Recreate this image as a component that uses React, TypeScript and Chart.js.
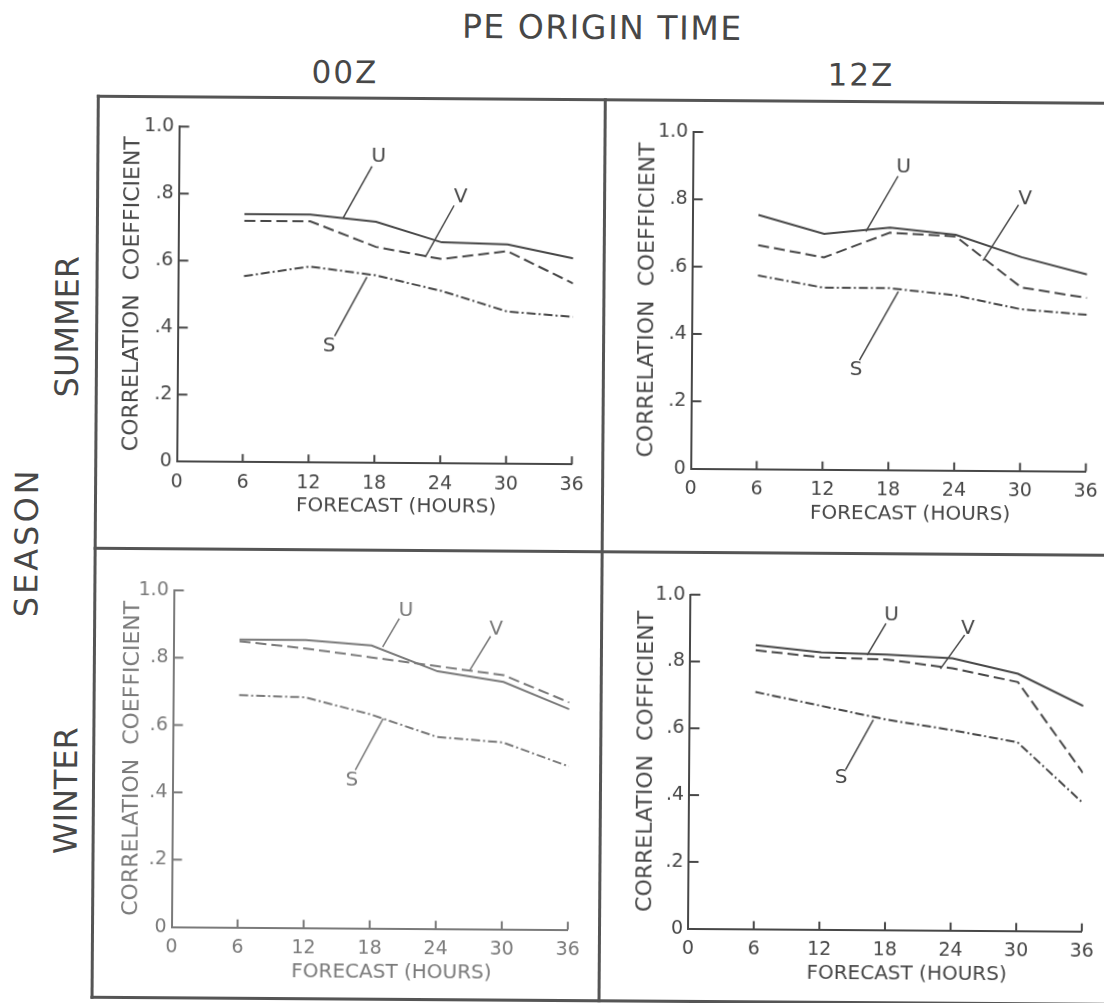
import React, { useEffect, useRef } from "react";
import { Chart, registerables } from "chart.js";

Chart.register(...registerables);

// ---------- data ----------
const forecastHours = [6, 12, 18, 24, 30, 36];
const xTickValues = [0, 6, 12, 18, 24, 30, 36];
const yTickValues = [0, 0.2, 0.4, 0.6, 0.8, 1.0];
const yTickLabels = ["0", ".2", ".4", ".6", ".8", "1.0"];

const summer00zU = [0.74, 0.74, 0.72, 0.66, 0.655, 0.615];
const summer00zV = [0.72, 0.72, 0.645, 0.61, 0.635, 0.54];
const summer00zS = [0.555, 0.585, 0.56, 0.515, 0.455, 0.44];

const summer12zU = [0.755, 0.7, 0.72, 0.7, 0.635, 0.585];
const summer12zV = [0.665, 0.63, 0.705, 0.695, 0.545, 0.515];
const summer12zS = [0.575, 0.54, 0.54, 0.52, 0.48, 0.465];

const winter00zU = [0.855, 0.855, 0.84, 0.765, 0.735, 0.655];
const winter00zV = [0.85, 0.83, 0.805, 0.78, 0.755, 0.675];
const winter00zS = [0.69, 0.685, 0.635, 0.57, 0.555, 0.485];

const winter12zU = [0.85, 0.83, 0.825, 0.815, 0.77, 0.675];
const winter12zV = [0.835, 0.815, 0.81, 0.785, 0.745, 0.475];
const winter12zS = [0.71, 0.67, 0.63, 0.6, 0.565, 0.385];

const seriesNames = ["U", "V", "S"];

// leader-label anchors in data units: text centre, then line start -> line end
type Leader = { text: string; tx: number; ty: number; x1: number; y1: number; x2: number; y2: number };

const summer00zLeaders: Leader[] = [
  { text: "U", tx: 18.2, ty: 0.915, x1: 17.6, y1: 0.885, x2: 15.0, y2: 0.731 },
  { text: "V", tx: 25.7, ty: 0.795, x1: 25.1, y1: 0.77, x2: 22.5, y2: 0.615 },
  { text: "S", tx: 13.8, ty: 0.346, x1: 14.3, y1: 0.378, x2: 17.2, y2: 0.555 },
];
const summer12zLeaders: Leader[] = [
  { text: "U", tx: 19.2, ty: 0.9, x1: 18.7, y1: 0.873, x2: 15.8, y2: 0.708 },
  { text: "V", tx: 30.3, ty: 0.808, x1: 29.7, y1: 0.79, x2: 26.5, y2: 0.624 },
  { text: "S", tx: 15.0, ty: 0.297, x1: 15.3, y1: 0.325, x2: 18.8, y2: 0.53 },
];
const winter00zLeaders: Leader[] = [
  { text: "U", tx: 21.1, ty: 0.945, x1: 20.5, y1: 0.921, x2: 19.0, y2: 0.836 },
  { text: "V", tx: 29.3, ty: 0.891, x1: 28.8, y1: 0.87, x2: 26.9, y2: 0.767 },
  { text: "S", tx: 16.3, ty: 0.44, x1: 16.6, y1: 0.47, x2: 19.1, y2: 0.624 },
];
const winter12zLeaders: Leader[] = [
  { text: "U", tx: 18.4, ty: 0.943, x1: 17.9, y1: 0.918, x2: 16.2, y2: 0.823 },
  { text: "V", tx: 25.4, ty: 0.903, x1: 25.1, y1: 0.885, x2: 22.9, y2: 0.783 },
  { text: "S", tx: 13.9, ty: 0.454, x1: 14.3, y1: 0.479, x2: 16.8, y2: 0.629 },
];

// ---------- styles ----------
const INK = "#474747";
const FAINT = "#7a7a7a";
const FONT = "'DejaVu Sans', 'Liberation Sans', sans-serif";
const DASHES: number[][] = [[], [11, 5], [9, 3, 2, 3]];

type PanelCfg = {
  left: number; top: number; w: number; h: number;
  plotLeft: number; plotTop: number; plotRight: number; xAxisH: number;
  yTitle: string; yTitlePad: number;
  series: number[][]; leaders: Leader[]; color: string;
};

const decorPlugin = {
  id: "decor",
  afterDraw(chart: any, _args: any, opts: any) {
    const { ctx } = chart;
    const x = chart.scales.x;
    const y = chart.scales.y;
    ctx.save();
    ctx.strokeStyle = opts.color;
    ctx.fillStyle = opts.color;
    ctx.lineWidth = 2;
    // inward tick marks
    yTickValues.forEach((v) => {
      if (v === 0) return;
      const py = y.getPixelForValue(v);
      ctx.beginPath();
      ctx.moveTo(x.left, py);
      ctx.lineTo(x.left + 10, py);
      ctx.stroke();
    });
    xTickValues.forEach((v) => {
      if (v === 0) return;
      const px = x.getPixelForValue(v);
      ctx.beginPath();
      ctx.moveTo(px, y.bottom);
      ctx.lineTo(px, y.bottom - 8);
      ctx.stroke();
    });
    // x-axis title
    ctx.font = `20px ${FONT}`;
    ctx.textAlign = "center";
    ctx.textBaseline = "middle";
    ctx.fillText("FORECAST (HOURS)", x.getPixelForValue(20), y.bottom + 44);
    // leader labels
    ctx.lineWidth = 1.5;
    (opts.leaders as Leader[]).forEach((l) => {
      ctx.beginPath();
      ctx.moveTo(x.getPixelForValue(l.x1), y.getPixelForValue(l.y1));
      ctx.lineTo(x.getPixelForValue(l.x2), y.getPixelForValue(l.y2));
      ctx.stroke();
      ctx.font = `20px ${FONT}`;
      ctx.fillText(l.text, x.getPixelForValue(l.tx), y.getPixelForValue(l.ty));
    });
    ctx.restore();
  },
};

function Panel({ cfg }: { cfg: PanelCfg }) {
  const ref = useRef<HTMLCanvasElement>(null);
  useEffect(() => {
    const c = cfg.color;
    const chart = new Chart(ref.current as HTMLCanvasElement, {
      type: "line",
      data: {
        datasets: cfg.series.map((vals, i) => ({
          label: seriesNames[i],
          data: forecastHours.map((h, j) => ({ x: h, y: vals[j] })),
          borderColor: c,
          borderWidth: 2,
          borderDash: DASHES[i],
          pointRadius: 0,
          tension: 0,
          fill: false,
        })),
      },
      options: {
        responsive: false,
        animation: false,
        layout: { padding: { left: 0, top: cfg.plotTop, right: cfg.w - cfg.plotRight, bottom: 0 } },
        plugins: {
          legend: { display: false },
          tooltip: { enabled: false },
          decor: { color: c, leaders: cfg.leaders },
        } as any,
        scales: {
          x: {
            type: "linear",
            min: 0,
            max: 36,
            afterBuildTicks: (s: any) => { s.ticks = xTickValues.map((v) => ({ value: v })); },
            grid: { display: false, drawTicks: false },
            border: { display: true, color: c, width: 2 },
            ticks: { color: c, font: { family: FONT, size: 19 }, padding: 9, maxRotation: 0, autoSkip: false },
            afterFit: (s: any) => { s.height = cfg.xAxisH; },
          },
          y: {
            type: "linear",
            min: 0,
            max: 1,
            afterBuildTicks: (s: any) => { s.ticks = yTickValues.map((v) => ({ value: v })); },
            grid: { display: false, drawTicks: false },
            border: { display: true, color: c, width: 2 },
            ticks: {
              color: c,
              font: { family: FONT, size: 19 },
              padding: 5,
              autoSkip: false,
              callback: (v: any) => {
                const idx = yTickValues.findIndex((t) => Math.abs(t - Number(v)) < 1e-6);
                return idx >= 0 ? yTickLabels[idx] : "";
              },
            },
            title: {
              display: true,
              text: cfg.yTitle,
              color: c,
              font: { family: FONT, size: 22 },
              padding: { top: cfg.yTitlePad, bottom: 0 },
            },
            afterFit: (s: any) => { s.width = cfg.plotLeft; },
          },
        },
      },
      plugins: [decorPlugin as any],
    });
    return () => chart.destroy();
  }, []);
  return (
    <div style={{ position: "absolute", left: cfg.left, top: cfg.top, width: cfg.w, height: cfg.h }}>
      <canvas ref={ref} width={cfg.w} height={cfg.h} style={{ width: cfg.w, height: cfg.h, display: "block" }} />
    </div>
  );
}

const panels: PanelCfg[] = [
  {
    left: 95, top: 99, w: 507, h: 452,
    plotLeft: 81.6, plotTop: 30.2, plotRight: 476.6, xAxisH: 86.8,
    yTitle: "CORRELATION  COEFFICIENT", yTitlePad: 22.6,
    series: [summer00zU, summer00zV, summer00zS], leaders: summer00zLeaders, color: INK,
  },
  {
    left: 602, top: 99, w: 510, h: 452,
    plotLeft: 88.6, plotTop: 32, plotRight: 483.6, xAxisH: 83.4,
    yTitle: "CORRELATION  COEFFICIENT", yTitlePad: 31,
    series: [summer12zU, summer12zV, summer12zS], leaders: summer12zLeaders, color: INK,
  },
  {
    left: 95, top: 551, w: 507, h: 449,
    plotLeft: 79.5, plotTop: 42, plotRight: 475.8, xAxisH: 70.4,
    yTitle: "CORRELATION  COEFFICIENT", yTitlePad: 25.9,
    series: [winter00zU, winter00zV, winter00zS], leaders: winter00zLeaders, color: FAINT,
  },
  {
    left: 602, top: 551, w: 510, h: 449,
    plotLeft: 89.1, plotTop: 42.7, plotRight: 482.8, xAxisH: 72.3,
    yTitle: "CORRELATION  COFFICIENT", yTitlePad: 33.4,
    series: [winter12zU, winter12zV, winter12zS], leaders: winter12zLeaders, color: INK,
  },
];

function Label({ text, x, y, size, spacing = 0, rotate }: { text: string; x: number; y: number; size: number; spacing?: number; rotate?: boolean }) {
  return (
    <div
      style={{
        position: "absolute",
        left: x,
        top: y,
        transform: `translate(-50%, -50%)${rotate ? " rotate(-90deg)" : ""}`,
        fontFamily: FONT,
        fontSize: size,
        letterSpacing: spacing,
        lineHeight: 1,
        color: INK,
        whiteSpace: "nowrap",
      }}
    >
      {text}
    </div>
  );
}

function Rule({ x, y, w, h }: { x: number; y: number; w: number; h: number }) {
  return <div style={{ position: "absolute", left: x, top: y, width: w, height: h, background: "#555" }} />;
}

export default function App() {
  return (
    <div style={{ position: "fixed", inset: 0, overflow: "hidden", background: "#fff" }}>
      <div
        style={{
          position: "absolute",
          left: 0,
          top: 0,
          width: 1104,
          height: 1003,
          transform: "rotate(0.4deg)",
          transformOrigin: "552px 500px",
        }}
      >
        {panels.map((p, i) => (
          <Panel key={i} cfg={p} />
        ))}
        <Rule x={93.5} y={97.5} w={1040} h={3} />
        <Rule x={93.5} y={549.5} w={1040} h={3} />
        <Rule x={93.5} y={998.5} w={1040} h={3} />
        <Rule x={93.5} y={97.5} w={3} h={904} />
        <Rule x={600.5} y={97.5} w={3} h={904} />

        <Label text="PE  ORIGIN TIME" x={599} y={27} size={33} spacing={1.5} />
        <Label text="00Z" x={342} y={74} size={31} spacing={2} />
        <Label text="12Z" x={858} y={73} size={31} spacing={2} />
        <Label text="SEASON" x={27} y={546} size={32} spacing={3} rotate />
        <Label text="SUMMER" x={66} y={330} size={32} rotate />
        <Label text="WINTER" x={68} y={794} size={32} rotate />
      </div>
    </div>
  );
}
